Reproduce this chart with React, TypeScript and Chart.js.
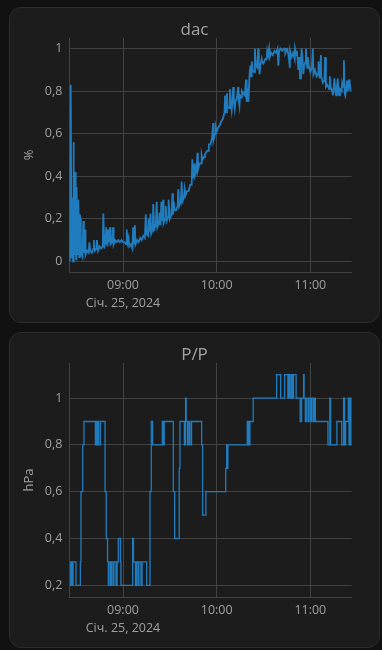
import React, { useEffect, useRef } from "react";
import { Chart, registerables } from "chart.js";

Chart.register(...registerables);

// ---- shared time axis (minutes of the day) ----
const X_MIN = 505.6;
const X_MAX = 686.5;
const TIME_TICKS = [540, 600, 660];
const DATE_LABEL = "Січ. 25, 2024";

// ---- dac (%) ----
const DAC_TITLE = "dac";
const DAC_UNIT = "%";
const DAC_START_MINUTE = 506; // first baseline sample, one per minute
const DAC_BASE = [
  0.00, 0.02, 0.00, 0.03, 0.01, 0.03, 0.02, 0.04, 0.02, 0.04,
  0.03, 0.05, 0.04, 0.05, 0.04, 0.06, 0.05, 0.06, 0.05, 0.07,
  0.06, 0.07, 0.06, 0.08, 0.07, 0.09, 0.08, 0.09, 0.08, 0.10,
  0.09, 0.10, 0.09, 0.10, 0.09, 0.09, 0.08, 0.09, 0.07, 0.08,
  0.06, 0.08, 0.08, 0.10, 0.09, 0.11, 0.10, 0.12, 0.11, 0.13,
  0.12, 0.14, 0.13, 0.15, 0.15, 0.17, 0.16, 0.18, 0.17, 0.19,
  0.18, 0.20, 0.19, 0.21, 0.20, 0.22, 0.22, 0.24, 0.24, 0.26,
  0.26, 0.28, 0.28, 0.30, 0.31, 0.33, 0.33, 0.36, 0.36, 0.39,
  0.40, 0.42, 0.43, 0.46, 0.46, 0.48, 0.49, 0.51, 0.52, 0.55,
  0.55, 0.58, 0.57, 0.60, 0.61, 0.63, 0.64, 0.66, 0.67, 0.70,
  0.70, 0.73, 0.72, 0.75, 0.74, 0.76, 0.75, 0.77, 0.76, 0.78,
  0.77, 0.79, 0.78, 0.80, 0.79, 0.87, 0.87, 0.90, 0.89, 0.92,
  0.91, 0.93, 0.92, 0.94, 0.93, 0.95, 0.95, 0.97, 0.96, 0.98,
  0.97, 0.99, 0.98, 1.00, 0.99, 1.00, 0.99, 1.00, 0.98, 1.00,
  0.97, 0.99, 0.96, 0.98, 0.95, 0.97, 0.94, 0.96, 0.93, 0.95,
  0.92, 0.94, 0.91, 0.92, 0.89, 0.91, 0.88, 0.90, 0.87, 0.88,
  0.86, 0.87, 0.84, 0.85, 0.82, 0.83, 0.81, 0.82, 0.80, 0.82,
  0.80, 0.82, 0.79, 0.81, 0.80, 0.82, 0.79, 0.81, 0.80, 0.81, 0.80,
];
// short single readings between the per-minute samples: [minute, value]
const DAC_SPIKES: [number, number][] = [
  [506.5, 0.83], [507.2, 0.30], [508.2, 0.56], [508.6, 0.30], [509.3, 0.42],
  [509.7, 0.12], [510.2, 0.35], [510.6, 0.25], [511.4, 0.29], [512.4, 0.22],
  [512.8, 0.20], [514.6, 0.19], [515.7, 0.15], [518.5, 0.09], [521.4, 0.10],
  [523.3, 0.10], [527.4, 0.225], [528.5, 0.13], [529.2, 0.16], [530.6, 0.15],
  [531.7, 0.16], [533.6, 0.16], [542.4, 0.15], [543.6, 0.11], [546.5, 0.16],
  [547.6, 0.17], [554.6, 0.22], [556.4, 0.20], [557.6, 0.225], [559.4, 0.27],
  [561.6, 0.28], [563.4, 0.23], [564.6, 0.28], [565.8, 0.29], [567.4, 0.26],
  [569.2, 0.29], [571.7, 0.32], [572.6, 0.28], [575.4, 0.34], [577.6, 0.375],
  [579.5, 0.34], [584.4, 0.48], [585.5, 0.46], [587.7, 0.51], [590.4, 0.50],
  [592.5, 0.50], [594.6, 0.52], [597.8, 0.65], [599.4, 0.63], [605.4, 0.78],
  [606.6, 0.79], [608.5, 0.81], [609.6, 0.71], [610.6, 0.82], [611.6, 0.72],
  [613.8, 0.82], [614.6, 0.73], [616.2, 0.80], [618.8, 0.855], [619.4, 0.75],
  [620.4, 0.75], [621.6, 0.92], [622.5, 0.94], [624.5, 1.00], [626.6, 1.00],
  [627.5, 0.88], [628.8, 0.95], [632.4, 0.99], [633.6, 1.00], [639.5, 0.92],
  [643.8, 1.00], [645.2, 1.00], [646.9, 0.91], [650.2, 1.00], [651.4, 0.99],
  [652.3, 0.90], [653.4, 0.86], [654.4, 1.00], [655.5, 0.88], [657.2, 1.00],
  [658.4, 0.96], [661.6, 1.00], [663.5, 0.90], [665.2, 0.94], [666.8, 0.97],
  [669.4, 0.96], [672.5, 0.87], [674.4, 0.78], [675.4, 0.86], [676.5, 0.78],
  [677.6, 0.86], [678.6, 0.78], [680.4, 0.84], [681.5, 0.945], [682.4, 0.78],
  [683.5, 0.85], [684.9, 0.855], [685.4, 0.84],
];
const DAC_Y_TICKS = [0, 0.2, 0.4, 0.6, 0.8, 1];
const DAC_Y_MIN = -0.05;
const DAC_Y_MAX = 1.05;

// ---- P/P (hPa), value held until next change: [minute, value] ----
const PP_TITLE = "P/P";
const PP_UNIT = "hPa";
const PP_STEPS: [number, number][] = [
  [505.6, 0.2], [506.5, 0.3], [507.3, 0.2], [508.0, 0.3], [509.9, 0.2],
  [512.7, 0.3], [513.1, 0.6], [514.2, 0.8], [515.0, 0.9], [522.3, 0.8],
  [522.7, 0.9], [523.2, 0.8], [524.0, 0.9], [524.4, 0.8], [525.5, 0.9],
  [528.5, 0.6], [529.3, 0.4], [530.1, 0.3], [530.6, 0.2], [531.0, 0.3],
  [532.0, 0.2], [532.6, 0.3], [533.6, 0.2], [534.2, 0.3], [535.5, 0.2],
  [536.2, 0.3], [537.0, 0.4], [538.4, 0.3], [538.7, 0.2], [546.2, 0.4],
  [546.7, 0.3], [548.0, 0.2], [548.6, 0.3], [549.6, 0.2], [550.2, 0.3],
  [551.5, 0.2], [552.2, 0.3], [555.2, 0.2], [557.3, 0.6], [558.1, 0.9],
  [559.0, 0.8], [565.2, 0.9], [565.8, 0.8], [566.4, 0.9], [572.2, 0.6],
  [573.1, 0.4], [576.0, 0.7], [576.5, 0.9], [579.3, 0.8], [580.1, 1.0],
  [580.5, 0.9], [581.4, 0.8], [582.3, 0.9], [582.9, 0.8], [583.9, 0.9],
  [590.4, 0.8], [591.0, 0.5], [593.1, 0.6], [605.8, 0.7], [606.4, 0.8],
  [606.8, 0.7], [607.2, 0.8], [619.6, 0.9], [620.0, 0.8], [620.5, 0.9],
  [620.9, 0.8], [621.3, 0.9], [623.4, 1.0], [638.4, 1.1], [641.0, 1.0],
  [643.5, 1.1], [645.6, 1.0], [646.3, 1.1], [646.9, 1.0], [647.8, 1.1],
  [648.4, 1.0], [649.2, 1.1], [650.9, 1.0], [653.5, 0.9], [654.4, 1.0],
  [655.7, 1.1], [656.0, 1.0], [656.8, 0.9], [657.4, 1.0], [658.5, 0.9],
  [659.2, 1.0], [660.2, 0.9], [660.9, 1.0], [661.9, 0.9], [662.4, 1.0],
  [663.2, 0.9], [671.3, 0.8], [672.5, 1.0], [673.0, 0.8], [677.0, 0.9],
  [680.1, 0.8], [681.3, 1.0], [682.0, 0.8], [682.6, 0.9], [684.3, 1.0],
  [684.8, 0.8], [685.4, 1.0], [686.1, 0.8], [686.5, 0.8],
];
const PP_Y_TICKS = [0.2, 0.4, 0.6, 0.8, 1];
const PP_Y_MIN = 0.15;
const PP_Y_MAX = 1.15;

// ---- styling ----
const CARD_W = 371;
const CARD_H = 316;
const LINE_COLOR = "rgb(33,124,190)";
const GRID_COLOR = "#424242";
const TEXT_COLOR = "#a0a0a0";
const FONT = "'Open Sans', 'DejaVu Sans', sans-serif";

const pad2 = (n: number) => String(n).padStart(2, "0");
const fmtTime = (m: number) => `${pad2(Math.floor(m / 60))}:${pad2(Math.round(m % 60))}`;

type Series = {
  points: { x: number; y: number }[];
  yMin: number;
  yMax: number;
  yTicks: number[];
  unit: string;
  stepped: boolean;
  width: number;
};

function buildConfig(s: Series): any {
  return {
    type: "line",
    data: {
      datasets: [
        {
          data: s.points,
          borderColor: LINE_COLOR,
          borderWidth: s.width,
          pointRadius: 0,
          fill: false,
          tension: 0,
          stepped: s.stepped ? "before" : false,
        },
      ],
    },
    options: {
      animation: false,
      responsive: false,
      events: [],
      layout: { padding: { left: 0, right: 28.3, top: 31, bottom: 0 } },
      plugins: { legend: { display: false }, tooltip: { enabled: false }, title: { display: false } },
      scales: {
        x: {
          type: "linear",
          min: X_MIN,
          max: X_MAX,
          afterBuildTicks: (sc: any) => {
            sc.ticks = TIME_TICKS.map((v) => ({ value: v }));
          },
          afterFit: (sc: any) => {
            sc.height = 51;
          },
          grid: { color: GRID_COLOR, drawTicks: false, lineWidth: 1 },
          border: { display: true, color: GRID_COLOR, width: 1 },
          ticks: {
            color: TEXT_COLOR,
            autoSkip: false,
            maxRotation: 0,
            padding: 4,
            font: { family: FONT, size: 12.5, lineHeight: 1.44 },
            callback: (v: number, i: number) => (i === 0 ? [fmtTime(v), DATE_LABEL] : fmtTime(v)),
          },
        },
        y: {
          type: "linear",
          min: s.yMin,
          max: s.yMax,
          afterBuildTicks: (sc: any) => {
            sc.ticks = s.yTicks.map((v) => ({ value: v }));
          },
          afterFit: (sc: any) => {
            sc.width = 60.3;
          },
          grid: { color: GRID_COLOR, drawTicks: false, lineWidth: 1 },
          border: { display: true, color: GRID_COLOR, width: 1 },
          ticks: {
            color: TEXT_COLOR,
            padding: 7,
            font: { family: FONT, size: 12.5 },
            callback: (v: number) => String(v).replace(".", ","),
          },
          title: {
            display: true,
            text: s.unit,
            color: TEXT_COLOR,
            font: { family: FONT, size: 13 },
            padding: { top: 12.7, bottom: 0 },
          },
        },
      },
    },
  };
}

function ChartCard({ top, title, series }: { top: number; title: string; series: Series }) {
  const ref = useRef<HTMLCanvasElement | null>(null);
  useEffect(() => {
    if (!ref.current) return;
    const chart = new Chart(ref.current, buildConfig(series));
    return () => chart.destroy();
  }, []);
  return (
    <div
      style={{
        position: "absolute",
        left: 9,
        top,
        width: CARD_W,
        height: CARD_H,
        boxSizing: "border-box",
        background: "#1c1c1c",
        border: "1px solid #2c2c2c",
        borderRadius: 12,
      }}
    >
      <canvas
        ref={ref}
        width={CARD_W}
        height={CARD_H}
        style={{ position: "absolute", left: -1, top: -1, width: CARD_W, height: CARD_H }}
      />
      <div
        style={{
          position: "absolute",
          left: -1,
          top: 10,
          width: CARD_W,
          textAlign: "center",
          fontFamily: FONT,
          fontSize: 17,
          lineHeight: "22px",
          color: "#a4a4a4",
        }}
      >
        {title}
      </div>
    </div>
  );
}

export default function App() {
  const dacPoints = [
    ...DAC_BASE.map((v, i) => ({ x: DAC_START_MINUTE + i, y: v })),
    ...DAC_SPIKES.map(([x, y]) => ({ x, y })),
  ].sort((a, b) => a.x - b.x);
  const ppPoints = PP_STEPS.map(([x, y]) => ({ x, y }));

  const dac: Series = {
    points: dacPoints,
    yMin: DAC_Y_MIN,
    yMax: DAC_Y_MAX,
    yTicks: DAC_Y_TICKS,
    unit: DAC_UNIT,
    stepped: false,
    width: 1.8,
  };
  const pp: Series = {
    points: ppPoints,
    yMin: PP_Y_MIN,
    yMax: PP_Y_MAX,
    yTicks: PP_Y_TICKS,
    unit: PP_UNIT,
    stepped: true,
    width: 1.3,
  };

  return (
    <div style={{ position: "fixed", left: 0, top: 0, width: 382, height: 650, background: "#111111", overflow: "hidden" }}>
      <ChartCard top={7} title={DAC_TITLE} series={dac} />
      <ChartCard top={332} title={PP_TITLE} series={pp} />
    </div>
  );
}
